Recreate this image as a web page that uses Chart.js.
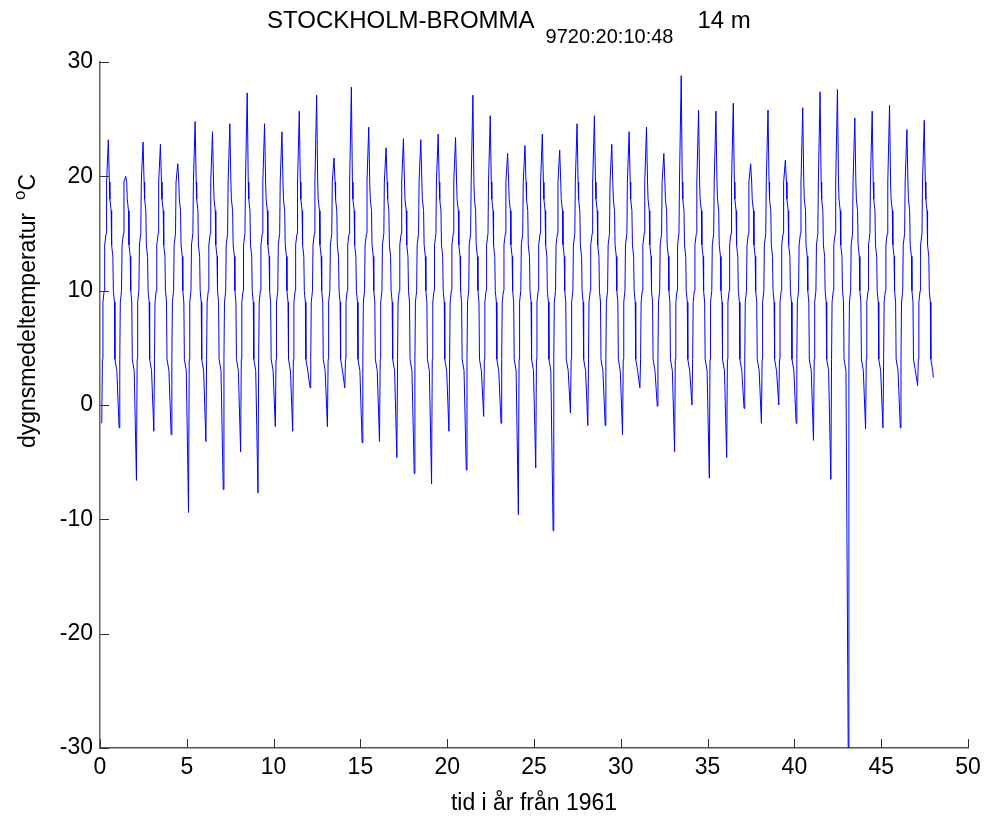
<!DOCTYPE html>
<html>
<head>
<meta charset="utf-8">
<script src="https://cdn.jsdelivr.net/npm/chart.js@4.4.1/dist/chart.umd.min.js"></script>
<style>
  html, body { margin: 0; padding: 0; background: #fff; }
  #wrap { width: 987px; height: 818px; }
</style>
</head>
<body>
<div id="wrap"><canvas id="myChart" width="987" height="818"></canvas></div>
<script>
// one entry per year since 1961 : coldest winter value and warmest summer value
const winterLow = [
  -1.6, -2.0, -6.6, -2.3, -2.6, -9.4, -3.2, -7.4, -4.1, -7.7,
  -1.9, -2.3,  1.5, -1.9,  1.5, -3.3, -3.2, -4.6, -6.0, -6.9,
  -2.3, -5.7, -1.0, -1.6, -9.6, -5.5, -11.0, -0.7, -1.8, -1.8,
  -2.6,  1.5, -0.1, -4.1,  0.0, -6.4, -4.6, -0.3, -1.6,  0.0,
  -1.6, -3.1, -6.5, -30.0, -2.1, -2.0, -2.0,  1.7
];
const summerHigh = [
  23.2, 20.0, 23.0, 22.8, 21.1, 24.8, 23.9, 24.6, 27.3, 24.6,
  23.9, 25.7, 27.1, 21.6, 27.8, 24.3, 22.5, 23.3, 23.2, 23.7,
  23.4, 27.1, 25.3, 22.0, 22.7, 23.7, 22.3, 24.6, 25.3, 22.8,
  23.9, 24.3, 22.0, 28.8, 25.8, 25.7, 26.4, 21.1, 25.8, 21.4,
  26.0, 27.4, 27.6, 25.1, 25.7, 26.2, 24.1, 24.9
];
// the steps the curve makes every spring (going up) and autumn (going down)
const riseLevels = [4, 9, 10, 14, 15, 19.5];
const fallLevels = [19.5, 18, 17, 14, 13, 10, 9, 4, 3];
// position inside the year of: low, rise steps, high, fall steps
const risePhase = [0.10, 0.14, 0.17, 0.24, 0.27, 0.35, 0.38];
const highPhase = 0.48;
const fallPhase = [0.54, 0.57, 0.64, 0.67, 0.74, 0.77, 0.83, 0.86, 0.97];
const lastPoint = [48.0, 2.4];

const xTicks = [0, 5, 10, 15, 20, 25, 30, 35, 40, 45, 50];
const yTicks = [-30, -20, -10, 0, 10, 20, 30];

const points = [];
winterLow.forEach(function (low, i) {
  [low].concat(riseLevels).forEach(function (v, j) {
    points.push({ x: i + risePhase[j], y: v });
  });
  points.push({ x: i + highPhase, y: summerHigh[i] });
  fallLevels.forEach(function (v, j) {
    points.push({ x: i + fallPhase[j], y: v });
  });
});
points.push({ x: lastPoint[0], y: lastPoint[1] });

const FONT = '"Liberation Sans", Arial, Helvetica, sans-serif';
Chart.defaults.font.family = FONT;
Chart.defaults.color = '#000';

// inward ticks, title with subscript and the axis labels
const decor = {
  id: 'decor',
  afterDraw: function (chart) {
    const ctx = chart.ctx;
    const xs = chart.scales.x, ys = chart.scales.y;
    const a = chart.chartArea;
    ctx.save();
    ctx.strokeStyle = '#333';
    ctx.lineWidth = 1;
    ctx.beginPath();
    xTicks.forEach(function (t) {
      const px = Math.round(xs.getPixelForValue(t)) + 0.5;
      ctx.moveTo(px, a.bottom);
      ctx.lineTo(px, a.bottom - 9);
    });
    yTicks.forEach(function (t) {
      const py = Math.round(ys.getPixelForValue(t)) + 0.5;
      ctx.moveTo(a.left, py);
      ctx.lineTo(a.left + 9, py);
    });
    ctx.stroke();

    // title
    ctx.fillStyle = '#000';
    ctx.textBaseline = 'alphabetic';
    ctx.textAlign = 'left';
    ctx.font = '24px ' + FONT;
    let x = 267;
    ctx.fillText('STOCKHOLM-BROMMA', x, 28);
    x += ctx.measureText('STOCKHOLM-BROMMA').width + 11;
    ctx.font = '20px ' + FONT;
    ctx.fillText('9720:20:10:48', x, 43);
    x += ctx.measureText('9720:20:10:48').width + 24;
    ctx.font = '24px ' + FONT;
    ctx.fillText('14 m', x, 28);

    // x label
    ctx.textAlign = 'center';
    ctx.font = '23px ' + FONT;
    ctx.fillText('tid i år från 1961', (a.left + a.right) / 2, 810);

    // y label, rotated, with superscript o
    ctx.translate(35, 448);
    ctx.rotate(-Math.PI / 2);
    ctx.textAlign = 'left';
    const main = 'dygnsmedeltemperatur  ';
    ctx.fillText(main, 0, 0);
    let w = ctx.measureText(main).width;
    ctx.font = '17px ' + FONT;
    ctx.fillText('o', w, -10);
    w += ctx.measureText('o').width;
    ctx.font = '23px ' + FONT;
    ctx.fillText('C', w, 0);
    ctx.restore();
  }
};

const ctx = document.getElementById('myChart');
new Chart(ctx, {
  type: 'line',
  data: {
    datasets: [{
      data: points,
      borderColor: '#0000ff',
      borderWidth: 1,
      pointRadius: 0,
      tension: 0,
      fill: false
    }]
  },
  options: {
    responsive: false,
    animation: false,
    devicePixelRatio: 1,
    layout: { padding: { top: 62, right: 19, left: 0, bottom: 0 } },
    plugins: { legend: { display: false }, tooltip: { enabled: false }, title: { display: false } },
    scales: {
      x: {
        type: 'linear',
        min: 0, max: 50,
        afterBuildTicks: function (s) { s.ticks = xTicks.map(function (v) { return { value: v }; }); },
        afterFit: function (s) { s.height = 70; },
        grid: { display: false, drawTicks: false },
        border: { display: true, color: '#555', width: 1.5 },
        ticks: { font: { size: 23 }, color: '#000', padding: 6, maxRotation: 0 }
      },
      y: {
        type: 'linear',
        min: -30, max: 30,
        afterBuildTicks: function (s) { s.ticks = yTicks.map(function (v) { return { value: v }; }); },
        afterFit: function (s) { s.width = 100; },
        grid: { display: false, drawTicks: false },
        border: { display: true, color: '#666', width: 1.5 },
        ticks: { font: { size: 23 }, color: '#000', padding: 7 }
      }
    }
  },
  plugins: [decor]
});
</script>
</body>
</html>
